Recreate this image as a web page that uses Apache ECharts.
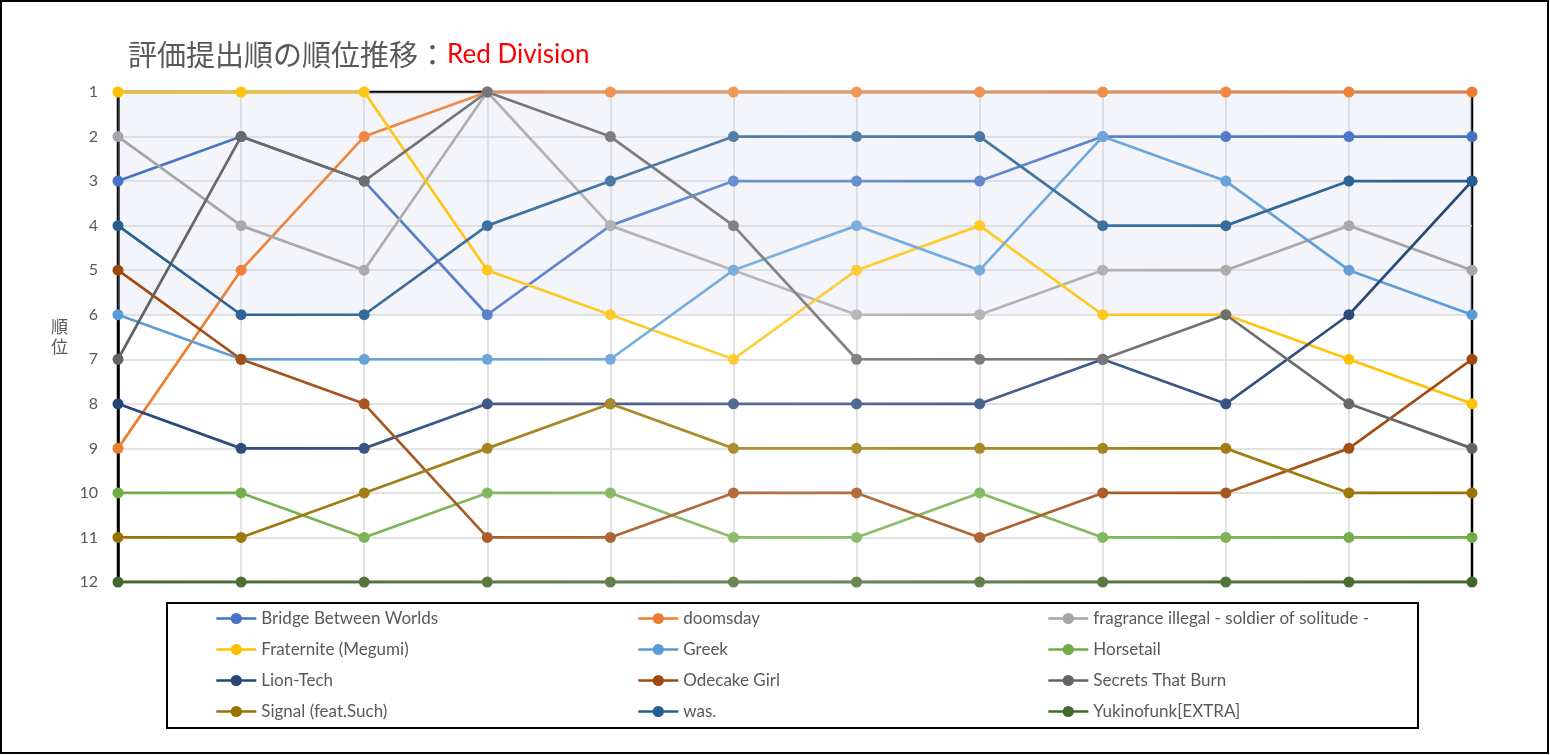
<!DOCTYPE html>
<html>
<head>
<meta charset="utf-8">
<script src="https://cdn.jsdelivr.net/npm/echarts@6/dist/echarts.min.js"></script>
<style>
  html, body { margin: 0; padding: 0; background: #fff; }
  #chart { width: 1550px; height: 755px; }
</style>
</head>
<body>
<div id="chart"></div>
<script>
// submission order (no labels shown on the axis)
const rounds = ["1", "2", "3", "4", "5", "6", "7", "8", "9", "10", "11", "12"];
const rankTicks = [1, 2, 3, 4, 5, 6, 7, 8, 9, 10, 11, 12];
const topBand = [1, 6];

const seriesNames = [
  "Bridge Between Worlds",
  "doomsday",
  "fragrance illegal - soldier of solitude -",
  "Fraternite (Megumi)",
  "Greek",
  "Horsetail",
  "Lion-Tech",
  "Odecake Girl",
  "Secrets That Burn",
  "Signal (feat.Such)",
  "was.",
  "Yukinofunk[EXTRA]"
];

const bridgeBetweenWorlds = [3, 2, 3, 6, 4, 3, 3, 3, 2, 2, 2, 2];
const doomsday = [9, 5, 2, 1, 1, 1, 1, 1, 1, 1, 1, 1];
const fragranceIllegal = [2, 4, 5, 1, 4, 5, 6, 6, 5, 5, 4, 5];
const fraternite = [1, 1, 1, 5, 6, 7, 5, 4, 6, 6, 7, 8];
const greek = [6, 7, 7, 7, 7, 5, 4, 5, 2, 3, 5, 6];
const horsetail = [10, 10, 11, 10, 10, 11, 11, 10, 11, 11, 11, 11];
const lionTech = [8, 9, 9, 8, 8, 8, 8, 8, 7, 8, 6, 3];
const odecakeGirl = [5, 7, 8, 11, 11, 10, 10, 11, 10, 10, 9, 7];
const secretsThatBurn = [7, 2, 3, 1, 2, 4, 7, 7, 7, 6, 8, 9];
const signal = [11, 11, 10, 9, 8, 9, 9, 9, 9, 9, 10, 10];
const was = [4, 6, 6, 4, 3, 2, 2, 2, 4, 4, 3, 3];
const yukinofunk = [12, 12, 12, 12, 12, 12, 12, 12, 12, 12, 12, 12];

const seriesValues = [
  bridgeBetweenWorlds, doomsday, fragranceIllegal, fraternite, greek, horsetail,
  lionTech, odecakeGirl, secretsThatBurn, signal, was, yukinofunk
];

const colors = [
  "#4472C4", "#ED7D31", "#A5A5A5", "#FFC000", "#5B9BD5", "#70AD47",
  "#264478", "#9E480E", "#636363", "#997300", "#255E91", "#43682B"
];

const legendColumns = [
  [0, 3, 6, 9],
  [1, 4, 7, 10],
  [2, 5, 8, 11]
];

const TEXT = "#595959";
const FONT = 'Lato, "Noto Sans CJK JP", sans-serif';
const CJK = '"Noto Sans CJK JP", sans-serif';

function lighten(hex, t) {
  const n = parseInt(hex.slice(1), 16);
  const r = (n >> 16) & 255, g = (n >> 8) & 255, b = n & 255;
  const mix = (c) => Math.round(c + (255 - c) * t);
  return `rgb(${mix(r)},${mix(g)},${mix(b)})`;
}

const chart = echarts.init(document.getElementById("chart"));

const series = seriesNames.map((name, idx) => {
  const base = colors[idx];
  const s = {
    name,
    type: "line",
    data: seriesValues[idx],
    symbol: "circle",
    symbolSize: 11,
    showSymbol: true,
    animation: false,
    lineStyle: {
      width: 2.7,
      color: new echarts.graphic.LinearGradient(0, 0, 1, 0, [
        { offset: 0, color: base },
        { offset: 0.5, color: lighten(base, 0.22) },
        { offset: 1, color: base }
      ])
    },
    itemStyle: {
      color: (p) => lighten(base, 0.22 * (1 - Math.abs((2 * p.dataIndex) / (rounds.length - 1) - 1)))
    },
    emphasis: { disabled: true }
  };
  if (idx === 0) {
    s.markArea = {
      silent: true,
      itemStyle: { color: "rgba(211,215,235,0.25)" },
      data: [[{ yAxis: topBand[0] }, { yAxis: topBand[1] }]]
    };
  }
  return s;
});

const legendLeft = [210, 632, 1042];
const legends = legendColumns.map((col, ci) => ({
  orient: "vertical",
  left: legendLeft[ci],
  top: 605,
  itemWidth: 40,
  itemHeight: 14,
  itemGap: 14,
  selectedMode: false,
  textStyle: { color: TEXT, fontSize: 17, fontFamily: FONT },
  data: col.map((i) => ({
    name: seriesNames[i],
    itemStyle: { color: colors[i] },
    lineStyle: { color: colors[i], width: 2.6 }
  }))
}));

chart.setOption({
  backgroundColor: "#fff",
  animation: false,
  title: {
    left: 123,
    top: 35,
    text: "{a|評価提出順の順位推移：}{b|Red Division}",
    textStyle: {
      fontWeight: "normal",
      rich: {
        a: { fontSize: 29, color: TEXT, fontFamily: CJK, fontWeight: "normal" },
        b: { fontSize: 26, color: "#FF0000", fontFamily: FONT, fontWeight: "normal" }
      }
    }
  },
  legend: legends,
  grid: {
    left: 118,
    right: 78,
    top: 92,
    bottom: 173,
    show: true,
    borderColor: "#000",
    borderWidth: 2.5,
    backgroundColor: "transparent"
  },
  xAxis: {
    type: "category",
    data: rounds,
    boundaryGap: false,
    axisLabel: { show: false },
    axisTick: { show: false },
    axisLine: { show: false },
    splitLine: { show: true, showMinLine: false, showMaxLine: false, lineStyle: { color: "#D9D9D9", width: 1.5 } }
  },
  yAxis: {
    type: "value",
    inverse: true,
    min: rankTicks[0],
    max: rankTicks[rankTicks.length - 1],
    interval: 1,
    name: "順\n位",
    nameLocation: "middle",
    nameRotate: 0,
    nameGap: 50,
    nameTextStyle: { color: TEXT, fontSize: 17, fontFamily: CJK, lineHeight: 20 },
    axisLine: { show: true, lineStyle: { color: "#000", width: 2.5 } },
    axisTick: { show: false },
    axisLabel: { color: TEXT, fontSize: 16, fontFamily: FONT, margin: 20 },
    splitLine: { show: true, showMinLine: false, showMaxLine: false, lineStyle: { color: "#D9D9D9", width: 1.5 } }
  },
  graphic: [
    {
      type: "rect",
      shape: { x: 1, y: 1, width: 1547, height: 752 },
      style: { fill: null, stroke: "#000", lineWidth: 2 },
      silent: true,
      z: 100
    },
    {
      type: "rect",
      shape: { x: 167, y: 603, width: 1251, height: 125 },
      style: { fill: null, stroke: "#000", lineWidth: 2 },
      silent: true,
      z: 100
    }
  ],
  series
});
</script>
</body>
</html>
